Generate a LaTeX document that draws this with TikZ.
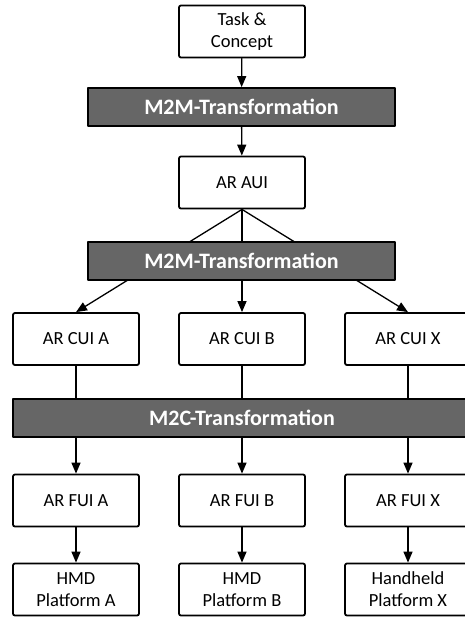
\documentclass[tikz,border=0pt]{standalone}
\usepackage{fontspec}
\setmainfont{Carlito}
\usepackage{tikz}
\usetikzlibrary{arrows.meta}
\definecolor{barfill}{HTML}{666666}

\begin{document}
\begin{tikzpicture}[line cap=round,line join=round,>={Triangle[length=11pt,width=9pt]},x=1pt,y=-1pt,
  box/.style={draw,line width=1.8pt,rounded corners=2pt,fill=white,minimum width=126pt,minimum height=52pt,inner sep=0pt,align=center,font=\fontsize{18.5}{22}\selectfont},
  bar/.style={draw,line width=1.8pt,fill=barfill,text=white,minimum height=38pt,inner sep=0pt,font=\fontsize{22}{26}\selectfont\bfseries},
  link/.style={line width=1.3pt}]
\clip(0,0) rectangle (465,618);
\node [box] (task) at (242,31.5) {Task \&\\Concept};
\node [box] (aui) at (242,182.5) {AR AUI};
\node [box] (cuia) at (76,339) {AR CUI A};
\node [box] (cuib) at (242,339) {AR CUI B};
\node [box] (cuix) at (408,339) {AR CUI X};
\node [box] (fuia) at (76,500.5) {AR FUI A};
\node [box] (fuib) at (242,500.5) {AR FUI B};
\node [box] (fuix) at (408,500.5) {AR FUI X};
\node [box] (hmda) at (76,589.5) {HMD\\Platform A};
\node [box] (hmdb) at (242,589.5) {HMD\\Platform B};
\node [box] (handx) at (408,589.5) {Handheld\\Platform X};
\draw [->,link] (aui.south) -- (cuia.north);
\draw [->,link] (aui.south) -- (cuib.north);
\draw [->,link] (aui.south) -- (cuix.north);
\draw [->,link] (cuia) -- (fuia);
\draw [->,link] (cuib) -- (fuib);
\draw [->,link] (cuix) -- (fuix);
\node [bar,minimum width=307pt] (m2ma) at (241.5,107) {M2M-Transformation};
\node [bar,minimum width=307pt] (m2mb) at (241.5,261) {M2M-Transformation};
\node [bar,minimum width=458pt] (m2c) at (242,418) {M2C-Transformation};
\draw [->,link] (task) -- (m2ma);
\draw [->,link] (m2ma) -- (aui);
\draw [->,link] (fuia) -- (hmda);
\draw [->,link] (fuib) -- (hmdb);
\draw [->,link] (fuix) -- (handx);
\end{tikzpicture}
\end{document}
